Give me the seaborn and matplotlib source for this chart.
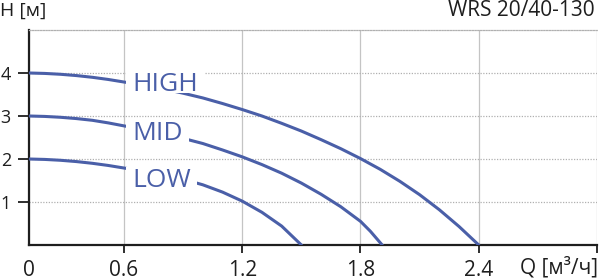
import numpy as np
import pandas as pd
import matplotlib
matplotlib.use("Agg")
import matplotlib.pyplot as plt
from matplotlib.path import Path
import seaborn as sns

# ---- data ----
high_q = [0, 0.1, 0.2, 0.3, 0.4, 0.5, 0.6, 0.7, 0.8, 0.9, 1.0, 1.1, 1.2,
          1.3, 1.4, 1.5, 1.6, 1.7, 1.8, 1.9, 2.0, 2.1, 2.2, 2.3, 2.4]
high_h = [4.00, 3.99, 3.97, 3.94, 3.90, 3.85, 3.79, 3.72, 3.63, 3.53, 3.42, 3.29, 3.15,
          3.00, 2.83, 2.65, 2.45, 2.24, 2.01, 1.76, 1.48, 1.17, 0.82, 0.43, 0.00]

mid_q = [0, 0.1, 0.2, 0.3, 0.4, 0.5, 0.6, 0.7, 0.8, 0.9, 1.0, 1.1, 1.2,
         1.3, 1.4, 1.5, 1.6, 1.7, 1.8, 1.85, 1.91]
mid_h = [3.00, 2.99, 2.97, 2.94, 2.90, 2.84, 2.77, 2.69, 2.59, 2.48, 2.36, 2.21, 2.05,
         1.87, 1.67, 1.44, 1.18, 0.89, 0.55, 0.32, 0.00]

low_q = [0, 0.1, 0.2, 0.3, 0.4, 0.5, 0.6, 0.7, 0.8, 0.9, 1.0, 1.1, 1.2,
         1.3, 1.4, 1.5]
low_h = [2.00, 1.99, 1.97, 1.94, 1.90, 1.85, 1.79, 1.72, 1.63, 1.53, 1.40, 1.23, 1.02,
         0.76, 0.44, 0.00]

curve_names = ["HIGH", "MID", "LOW"]
label_q = [0.64, 0.64, 0.64]
label_h = [3.58, 2.44, 1.35]

x_ticks = [0, 0.6, 1.2, 1.8, 2.4, 3.0]
x_tick_labels = ["0", "0.6", "1.2", "1.8", "2.4", ""]
y_ticks = [1, 2, 3, 4]
title = "WRS 20/40-130"
y_title = "H [м]"
x_title = "Q [м³/ч]"

BLUE = "#4a5fa8"
DARK = "#1e1e1e"

df = pd.concat([
    pd.DataFrame({"Q": high_q, "H": high_h, "curve": "HIGH"}),
    pd.DataFrame({"Q": mid_q, "H": mid_h, "curve": "MID"}),
    pd.DataFrame({"Q": low_q, "H": low_h, "curve": "LOW"}),
], ignore_index=True)

sns.set_theme(style="white")
plt.rcParams["font.family"] = ["Open Sans", "DejaVu Sans"]

fig = plt.figure(figsize=(6, 2.8), dpi=100)
ax = fig.add_axes([29 / 600, 35 / 280, 568 / 600, 215 / 280])

# the first interval (0 .. 0.6) is drawn compressed in the reference
def fwd(q):
    q = np.asarray(q, float)
    return np.where(q < 0.6, 0.118 + q * (0.482 / 0.6), q)

def inv(t):
    t = np.asarray(t, float)
    return np.where(t < 0.6, (t - 0.118) * (0.6 / 0.482), t)

ax.set_xscale("function", functions=(fwd, inv))

sns.lineplot(data=df, x="Q", y="H", hue="curve", hue_order=curve_names,
             palette=[BLUE] * 3, sort=False, estimator=None, lw=2.2,
             legend=False, ax=ax, zorder=3)


# white mask behind the curve labels: padded left/right, bottom near the baseline
def label_box(x0, y0, width, height, mutation_size):
    pl, pr = 0.22 * mutation_size, 0.24 * mutation_size
    pb, pt = 0.16 * mutation_size, 0.04 * mutation_size
    xa, xb = x0 - pl, x0 + width + pr
    ya, yb = y0 + pb, y0 + height + pt
    return Path([(xa, ya), (xb, ya), (xb, yb), (xa, yb), (xa, ya)],
                [Path.MOVETO, Path.LINETO, Path.LINETO, Path.LINETO, Path.CLOSEPOLY])


for name, q, h in zip(curve_names, label_q, label_h):
    ax.text(q, h, name, fontsize=19, color=BLUE, ha="left", va="baseline",
            bbox=dict(fc="white", ec="none", boxstyle=label_box), zorder=5)

ax.set_xlim(0, 3.0)
ax.set_ylim(0, 5)
ax.set_xticks(x_ticks)
ax.set_xticklabels(x_tick_labels)
ax.set_yticks(y_ticks)
ax.set_xlabel("")
ax.set_ylabel("")

ax.xaxis.grid(True, color="#c4c4c4", lw=0.9, ls="-")
ax.yaxis.grid(True, color="#b0b0b0", lw=0.9, ls=(0, (1, 1.2)))
ax.set_axisbelow(True)

for s in ["left", "bottom"]:
    ax.spines[s].set_color(DARK)
    ax.spines[s].set_linewidth(1.6)
ax.spines["right"].set_visible(False)
ax.spines["top"].set_color("#b0b0b0")
ax.spines["top"].set_linewidth(0.9)
ax.spines["top"].set_linestyle((0, (1, 1.2)))

ax.tick_params(axis="x", direction="out", length=6, width=1.3, color=DARK,
               labelcolor=DARK, labelsize=15, pad=5, bottom=True)
ax.tick_params(axis="y", direction="out", length=8, width=1.3, color=DARK,
               labelcolor=DARK, labelsize=13, pad=5, left=True)
ax.xaxis.get_major_ticks()[0].tick1line.set_visible(False)

fig.text(595 / 600, 1 - 10 / 280, title, ha="right", va="center",
         fontsize=15, color=DARK)
fig.text(0.0, 1 - 11 / 280, y_title, ha="left", va="center",
         fontsize=14, color=DARK)
fig.text(598 / 600, 1 - 268 / 280, x_title, ha="right", va="center",
         fontsize=15, color=DARK)

fig.savefig("out.png", dpi=100)
